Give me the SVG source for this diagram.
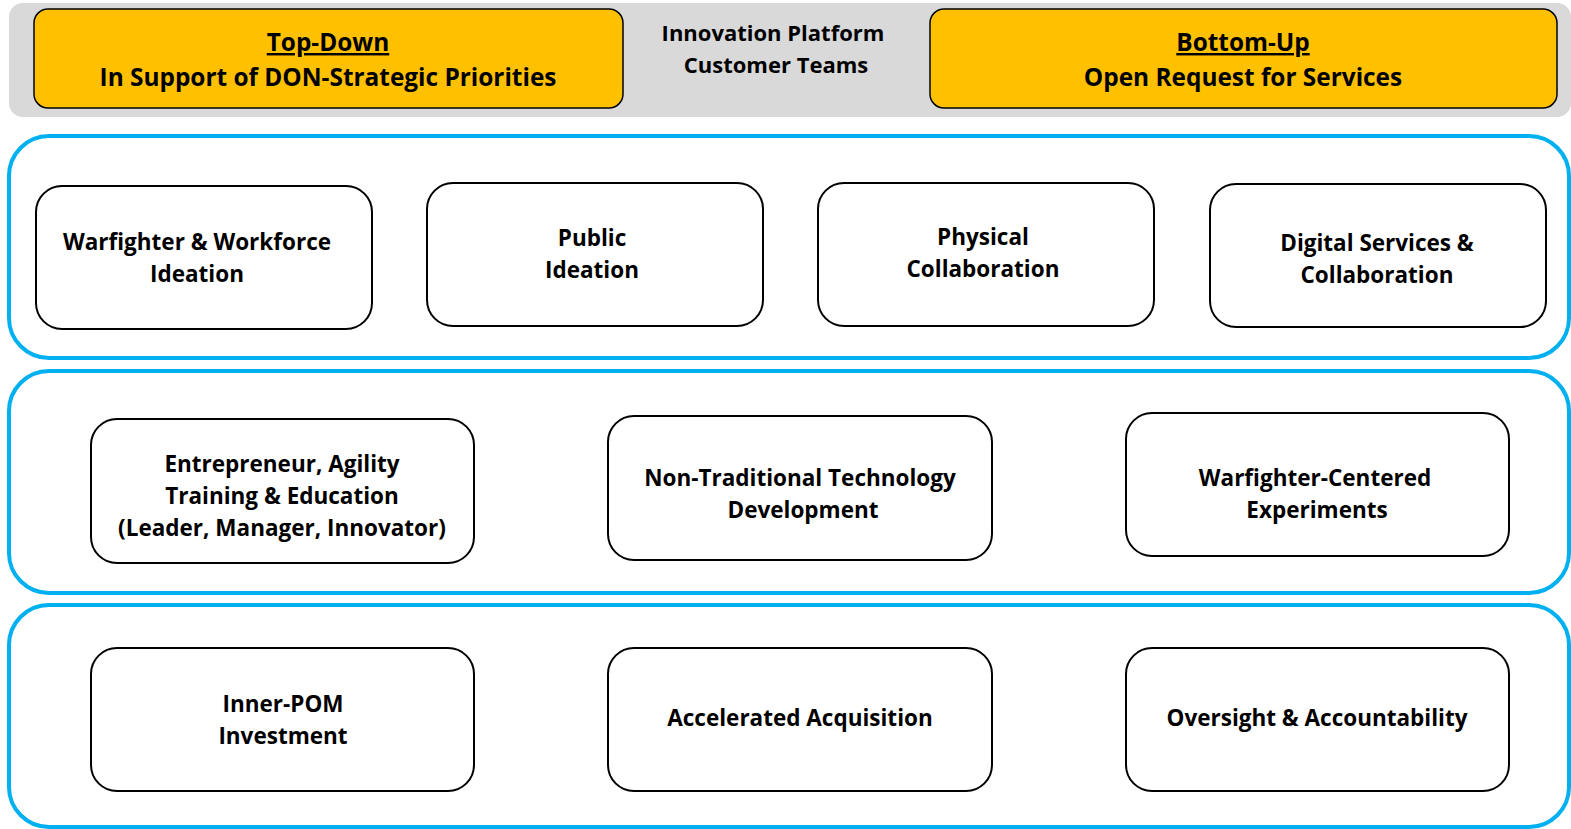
<svg xmlns="http://www.w3.org/2000/svg" width="1571" height="829" viewBox="0 0 1571 829">
<style>
.bg{fill:#d9d9d9;}
.gold{fill:#ffc000;stroke:#000;stroke-width:1.5;}
.panel{fill:#fff;stroke:#00b0f0;stroke-width:4;}
.box{fill:#fff;stroke:#000;stroke-width:2;}
text{font-family:"Open Sans","Noto Sans","Liberation Sans",sans-serif;font-weight:bold;fill:#000;text-anchor:middle;}
.h{font-size:24.4px;}
.c{font-size:22px;}
.t{font-size:22.5px;}
</style>
<rect width="1571" height="829" fill="#fff"/>
<g id="header">
<rect class="bg" x="9" y="3" width="1562" height="114" rx="14"/>
</g>
<g id="top-down">
<rect class="gold" x="34" y="9" width="589" height="99" rx="14"/>
<text class="h" x="328" y="51" text-decoration="underline">Top-Down</text>
<text class="h" x="328" y="86">In Support of DON-Strategic Priorities</text>
</g>
<g id="platform">
<text class="c" x="773" y="41">Innovation Platform</text>
<text class="c" x="776" y="73">Customer Teams</text>
</g>
<g id="bottom-up">
<rect class="gold" x="930" y="9" width="627" height="99" rx="14"/>
<text class="h" x="1243" y="51" text-decoration="underline">Bottom-Up</text>
<text class="h" x="1243" y="86">Open Request for Services</text>
</g>
<g id="panel1"><rect class="panel" x="9" y="136" width="1560" height="222" rx="40"/></g>
<g id="panel2"><rect class="panel" x="9" y="371" width="1560" height="222" rx="40"/></g>
<g id="panel3"><rect class="panel" x="9" y="605" width="1560" height="222" rx="40"/></g>
<g id="n1">
<rect class="box" x="36" y="186" width="336" height="143" rx="26"/>
<text class="t" x="197" y="250">Warfighter &amp; Workforce</text>
<text class="t" x="197" y="282">Ideation</text>
</g>
<g id="n2">
<rect class="box" x="427" y="183" width="336" height="143" rx="26"/>
<text class="t" x="592" y="246">Public</text>
<text class="t" x="592" y="278">Ideation</text>
</g>
<g id="n3">
<rect class="box" x="818" y="183" width="336" height="143" rx="26"/>
<text class="t" x="983" y="245">Physical</text>
<text class="t" x="983" y="277">Collaboration</text>
</g>
<g id="n4">
<rect class="box" x="1210" y="184" width="336" height="143" rx="26"/>
<text class="t" x="1377" y="251">Digital Services &amp;</text>
<text class="t" x="1377" y="283">Collaboration</text>
</g>
<g id="n5">
<rect class="box" x="91" y="419" width="383" height="144" rx="26"/>
<text class="t" x="282" y="472">Entrepreneur, Agility</text>
<text class="t" x="282" y="504">Training &amp; Education</text>
<text class="t" x="282" y="536">(Leader, Manager, Innovator)</text>
</g>
<g id="n6">
<rect class="box" x="608" y="416" width="384" height="144" rx="26"/>
<text class="t" x="800" y="486">Non-Traditional Technology</text>
<text class="t" x="803" y="518">Development</text>
</g>
<g id="n7">
<rect class="box" x="1126" y="413" width="383" height="143" rx="26"/>
<text class="t" x="1315" y="486">Warfighter-Centered</text>
<text class="t" x="1317" y="518">Experiments</text>
</g>
<g id="n8">
<rect class="box" x="91" y="648" width="383" height="143" rx="26"/>
<text class="t" x="283" y="712">Inner-POM</text>
<text class="t" x="283" y="744">Investment</text>
</g>
<g id="n9">
<rect class="box" x="608" y="648" width="384" height="143" rx="26"/>
<text class="t" x="800" y="726">Accelerated Acquisition</text>
</g>
<g id="n10">
<rect class="box" x="1126" y="648" width="383" height="143" rx="26"/>
<text class="t" x="1317" y="726">Oversight &amp; Accountability</text>
</g>
<g id="connectors"></g>
</svg>
